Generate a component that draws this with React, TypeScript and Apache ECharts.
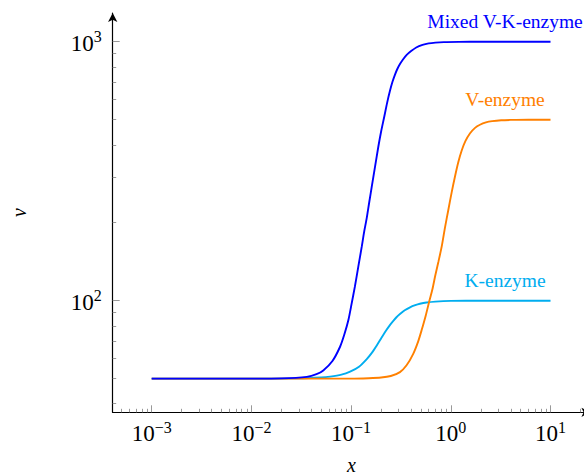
import React, { useEffect, useRef } from 'react';
import * as echarts from 'echarts';

// ---- data ----
const xMajorTicks = [0.001, 0.01, 0.1, 1, 10];
const xTickExponents = ['−3', '−2', '−1', '0', '1'];
const xMinorTicks = [
  0.0005, 0.0006, 0.0007, 0.0008, 0.0009,
  0.002, 0.003, 0.004, 0.005, 0.006, 0.007, 0.008, 0.009,
  0.02, 0.03, 0.04, 0.05, 0.06, 0.07, 0.08, 0.09,
  0.2, 0.3, 0.4, 0.5, 0.6, 0.7, 0.8, 0.9,
  2, 3, 4, 5, 6, 7, 8, 9, 20,
];
const yMajorTicks = [100, 1000];
const yTickExponents = ['2', '3'];
const yMinorTicks = [40, 50, 60, 70, 80, 90, 200, 300, 400, 500, 600, 700, 800, 900];

const xMin = 0.0004064;
const xMax = 25.12;
const yMin = 37.07;
const yMax = 1291;

const seriesNames = ['K-enzyme', 'V-enzyme', 'Mixed V-K-enzyme'];
const seriesColors = ['#00adef', '#ff8000', '#0000ff'];
const plateaus = [100, 500, 1000];
const labelAtX = 3.5;

const kEnzyme: [number, number][] = [
  [0.001, 50], [0.01, 50], [0.03, 50.1], [0.05, 50.5], [0.0616, 50.9], [0.08, 51.8],
  [0.0977, 53.2], [0.12, 55.6], [0.1436, 59.5], [0.162, 63], [0.181, 67.2], [0.2, 71.5],
  [0.227, 77.2], [0.245, 80.5], [0.265, 83.6], [0.285, 86.3], [0.309, 88.8], [0.345, 91.8],
  [0.39, 94.3], [0.44, 96.1], [0.49, 97.3], [0.57, 98.4], [0.7, 99.2], [1, 99.8],
  [2, 100], [10, 100],
];
const vEnzyme: [number, number][] = [
  [0.001, 50], [0.01, 50], [0.1, 50], [0.15, 50.2], [0.2, 50.5], [0.25, 51.2],
  [0.309, 53], [0.36, 56.3], [0.421, 62.5], [0.47, 69.5], [0.51, 77], [0.56, 87.5],
  [0.61, 100], [0.655, 111], [0.695, 124], [0.75, 141], [0.811, 162], [0.875, 192],
  [0.944, 224], [1.02, 262], [1.1, 301], [1.19, 343], [1.286, 380], [1.4, 413],
  [1.56, 443], [1.75, 465], [1.96, 478], [2.25, 488], [2.6, 493.5], [3.2, 497.5],
  [4, 499], [6, 500], [10, 500],
];
const mixedEnzyme: [number, number][] = [
  [0.001, 50], [0.005, 50], [0.01, 50], [0.02, 50.1], [0.0359, 50.8], [0.045, 52],
  [0.0526, 53.8], [0.065, 58.5], [0.0775, 66.4], [0.0855, 74], [0.0938, 84], [0.101, 97],
  [0.109, 113], [0.118, 135], [0.128, 162], [0.135, 184], [0.143, 207], [0.152, 240],
  [0.161, 275], [0.174, 330], [0.1875, 393], [0.2, 450], [0.215, 513], [0.23, 582],
  [0.245, 645], [0.26, 700], [0.275, 745], [0.29, 783], [0.309, 820], [0.33, 852],
  [0.361, 889], [0.4, 920], [0.45, 950], [0.52, 972], [0.6, 985], [0.7, 992],
  [0.85, 996.5], [1.2, 999], [2, 1000], [5, 1000], [10, 1000],
];
const seriesData = [kEnzyme, vEnzyme, mixedEnzyme];

const FONT = 'Liberation Serif';

function expLabel(ticks: number[], exps: string[]) {
  return (val: number) => {
    const i = ticks.findIndex((t) => Math.abs(t - val) / t < 1e-6);
    return i < 0 ? '' : `{b|10}{s|${exps[i]}}`;
  };
}

const rich = {
  b: { fontSize: 23, fontFamily: FONT, color: '#000', lineHeight: 26, verticalAlign: 'bottom' },
  s: { fontSize: 16, fontFamily: FONT, color: '#000', lineHeight: 14, verticalAlign: 'top' },
};

export default function App() {
  const ref = useRef<HTMLDivElement>(null);
  useEffect(() => {
    if (!ref.current) return;
    const chart = echarts.init(ref.current, undefined, { renderer: 'svg' });
    const gridBox = { left: 112.7, top: 13, width: 477.7, height: 399.3, containLabel: false, outerBoundsMode: 'none' };
    const option: any = {
      animation: false,
      backgroundColor: '#fff',
      grid: [{ ...gridBox }, { ...gridBox }],
      xAxis: [
        {
          type: 'log', logBase: 10, gridIndex: 0, min: xMin, max: xMax,
          name: 'x', nameLocation: 'middle', nameGap: 45,
          nameTextStyle: { fontFamily: FONT, fontStyle: 'italic', fontSize: 20, lineHeight: 16, color: '#000' },
          axisLine: { show: true, onZero: false, symbol: ['none', 'arrow'], symbolSize: [7, 9], lineStyle: { color: '#000', width: 1.2 } },
          axisTick: { show: true, inside: true, length: 7, customValues: xMajorTicks, lineStyle: { color: '#999', width: 1 } },
          axisLabel: { show: true, margin: 7, customValues: xMajorTicks, formatter: expLabel(xMajorTicks, xTickExponents), rich },
          splitLine: { show: false },
          minorTick: { show: false },
        },
        {
          type: 'log', logBase: 10, gridIndex: 1, min: xMin, max: xMax,
          axisLine: { show: false, onZero: false },
          axisTick: { show: true, inside: true, length: 3.5, customValues: xMinorTicks, lineStyle: { color: '#999', width: 1 } },
          axisLabel: { show: false },
          splitLine: { show: false },
        },
      ],
      yAxis: [
        {
          type: 'log', logBase: 10, gridIndex: 0, min: yMin, max: yMax,
          name: 'v', nameLocation: 'middle', nameGap: 84, nameRotate: 90,
          nameTextStyle: { fontFamily: FONT, fontStyle: 'italic', fontSize: 20, color: '#000' },
          axisLine: { show: true, onZero: false, symbol: ['none', 'arrow'], symbolSize: [7, 9], lineStyle: { color: '#000', width: 1.2 } },
          axisTick: { show: true, inside: true, length: 7, customValues: yMajorTicks, lineStyle: { color: '#999', width: 1 } },
          axisLabel: { show: true, margin: 11, customValues: yMajorTicks, formatter: expLabel(yMajorTicks, yTickExponents), rich },
          splitLine: { show: false },
          minorTick: { show: false },
        },
        {
          type: 'log', logBase: 10, gridIndex: 1, min: yMin, max: yMax,
          axisLine: { show: false, onZero: false },
          axisTick: { show: true, inside: true, length: 3.5, customValues: yMinorTicks, lineStyle: { color: '#999', width: 1 } },
          axisLabel: { show: false },
          splitLine: { show: false },
        },
      ],
      series: seriesData.map((d, i) => ({
        type: 'line',
        name: seriesNames[i],
        xAxisIndex: 0,
        yAxisIndex: 0,
        data: d,
        smooth: 0.25,
        showSymbol: false,
        symbol: 'none',
        lineStyle: { color: seriesColors[i], width: 1.9 },
        itemStyle: { color: seriesColors[i] },
        z: 2 + i,
        markPoint: {
          symbol: 'circle',
          symbolSize: 1,
          silent: true,
          itemStyle: { color: 'rgba(0,0,0,0)' },
          label: {
            show: true, position: 'top', distance: 10, formatter: seriesNames[i],
            color: seriesColors[i], fontSize: 19.5, fontFamily: FONT,
          },
          data: [{ coord: [labelAtX, plateaus[i]] }],
        },
      })),
    };
    chart.setOption(option);
    return () => chart.dispose();
  }, []);
  return <div ref={ref} style={{ position: 'absolute', left: 0, top: 0, width: 584, height: 475 }} />;
}
